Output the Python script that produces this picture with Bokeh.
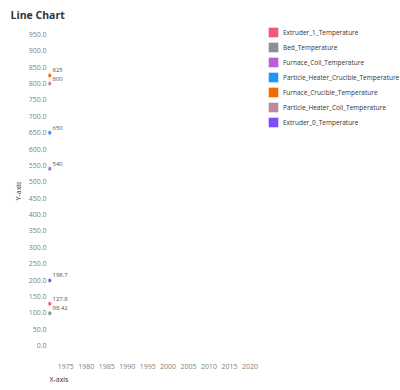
from bokeh.plotting import figure
from bokeh.models import (Legend, LegendItem, SingleIntervalTicker, NumeralTickFormatter,
                          ColumnDataSource, Range1d, Title)
from bokeh.core.properties import value
from bokeh.embed import file_html
from bokeh.resources import INLINE

series_names = ["Extruder_1_Temperature", "Bed_Temperature", "Furnace_Coil_Temperature",
                "Particle_Heater_Crucible_Temperature", "Furnace_Crucible_Temperature",
                "Particle_Heater_Coil_Temperature", "Extruder_0_Temperature"]
series_values = [127.8, 98.42, 540, 650, 825, 800, 198.7]
series_x = [1971, 1971, 1971, 1971, 1971, 1971, 1971]
series_colors = ["#f0577a", "#8e8e99", "#b95fd0", "#2196f3", "#f06c00", "#c0869c", "#7c4dff"]

FONT = "Open Sans"

p = figure(width=400, height=390, frame_width=219, frame_height=329,
           output_backend="svg", toolbar_location=None,
           x_range=Range1d(1970.755, 2024.30), y_range=Range1d(-30.5, 974.3),
           min_border_left=48, min_border_top=25, min_border_bottom=36, min_border_right=0)
p.outline_line_color = None
p.background_fill_color = "white"
p.border_fill_color = "white"
p.xgrid.visible = False
p.ygrid.visible = False

p.title.text = "Line Chart"
p.title.text_font = FONT
p.title.text_font_size = "10.5px"
p.title.text_font_style = "bold"
p.title.text_color = "#333333"
p.title.align = "left"
p.title.offset = -38

for ax in (p.xaxis[0], p.yaxis[0]):
    ax.axis_line_color = None
    ax.major_tick_line_color = None
    ax.minor_tick_line_color = None
    ax.major_tick_out = 0
    ax.minor_tick_out = 0
    ax.major_label_text_font = FONT
    ax.major_label_text_font_size = "7px"
    ax.major_label_text_color = "#808080"
    ax.axis_label_text_font = FONT
    ax.axis_label_text_font_size = "7px"
    ax.axis_label_text_font_style = "normal"
    ax.axis_label_text_color = "#333333"

p.xaxis.ticker = SingleIntervalTicker(interval=5)
p.xaxis.major_label_standoff = 8

p.yaxis.ticker = SingleIntervalTicker(interval=50)
p.yaxis.formatter = NumeralTickFormatter(format="0.0")
p.yaxis.major_label_standoff = 2
p.yaxis.axis_label = "Y-axis"
p.yaxis.axis_label_standoff = 3

xtitle = Title(text="X-axis", align="left", offset=1, standoff=2,
               text_font=FONT, text_font_size="7px", text_font_style="normal",
               text_color="#333333")
p.add_layout(xtitle, "below")

items = []
for name, v, xv, c in zip(series_names, series_values, series_x, series_colors):
    src = ColumnDataSource(dict(x=[xv], y=[v], t=[f"{v:g}"]))
    p.line("x", "y", source=src, line_color=c, line_width=1.5)
    p.scatter("x", "y", source=src, size=3, fill_color=c, line_color=c)
    p.text("x", "y", text="t", source=src, x_offset=3, y_offset=-5,
           text_font=value(FONT), text_font_size="6px", text_color="#555555",
           text_baseline="middle", text_align="left")
    swatch = p.quad(left="x", right="x", top="y", bottom="y", source=src,
                    fill_color=c, line_color=None)
    items.append(LegendItem(label=name, renderers=[swatch]))

legend = Legend(items=items, location="top_left", border_line_color=None,
                background_fill_alpha=0, padding=3, margin=0,
                glyph_width=12, glyph_height=12, label_height=12, spacing=3,
                label_standoff=4, label_text_font=FONT, label_text_font_size="6.5px",
                label_text_color="#333333")
p.add_layout(legend, "right")

open("out.html", "w").write(file_html(p, INLINE))
